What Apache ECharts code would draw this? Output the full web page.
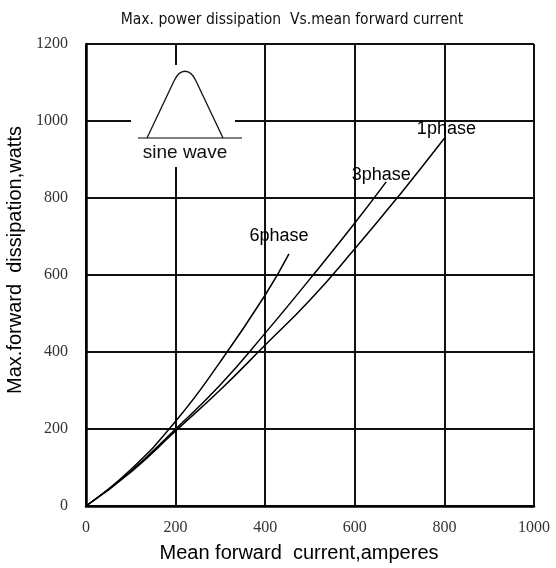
<!DOCTYPE html>
<html>
<head>
<meta charset="utf-8">
<script src="https://cdn.jsdelivr.net/npm/echarts@6/dist/echarts.min.js"></script>
<style>
  html, body { margin: 0; padding: 0; background: #fff; }
  #chart { width: 556px; height: 568px; }
</style>
</head>
<body>
<div id="chart"></div>
<script>
  // values (current in A, dissipation in W)
  var phase1 = [[0, 0], [100, 88], [200, 195], [300, 302], [400, 418], [500, 535], [600, 668], [700, 808], [800, 955]]
  var phase3 = [[0, 0], [100, 90], [200, 200], [300, 315], [400, 449], [500, 590], [600, 735], [670, 842]]
  var phase6 = [[0, 0], [100, 95], [200, 220], [300, 375], [400, 548], [453, 655]]
  var seriesNames = ['1phase', '3phase', '6phase']
  // where each name sits relative to the curve end
  var labelOffsets = [[2, -9], [-5, -7], [-10, -18]]

  var chart = echarts.init(document.getElementById('chart'))

  var curves = [phase1, phase3, phase6].map(function (d, i) {
    return {
      name: seriesNames[i],
      type: 'line',
      smooth: true,
      symbol: 'none',
      data: d,
      lineStyle: { color: '#000', width: 1.5 },
      endLabel: {
        show: true,
        formatter: '{a}',
        distance: 0,
        align: 'center',
        verticalAlign: 'middle',
        offset: labelOffsets[i],
        color: '#000',
        fontSize: 18,
        fontFamily: 'Liberation Sans'
      },
      z: 3
    }
  })

  var plain = function (v) { return String(v) }

  chart.setOption({
    animation: false,
    title: {
      text: 'Max. power dissipation  Vs.mean forward current',
      left: 287,
      textAlign: 'center',
      top: 7,
      textStyle: {
        color: '#111',
        fontWeight: 'normal',
        fontSize: 15.5,
        fontFamily: 'Liberation Sans Narrow, DejaVu Sans Condensed, sans-serif'
      }
    },
    grid: { left: 86, right: 22, top: 44, bottom: 62, outerBoundsMode: 'none' },
    xAxis: {
      type: 'value',
      min: 0,
      max: 1000,
      interval: 200,
      name: 'Mean forward  current,amperes',
      nameLocation: 'middle',
      nameGap: 37,
      nameTextStyle: {
        color: '#000',
        fontSize: 20,
        fontFamily: 'Liberation Sans',
        padding: [0, 22, 0, 0]
      },
      axisLine: { lineStyle: { color: '#000', width: 2.5 } },
      axisTick: { show: false },
      axisLabel: { color: '#333', fontSize: 16, fontFamily: 'Liberation Serif', margin: 14, formatter: plain },
      splitLine: { lineStyle: { color: '#111', width: 2 } }
    },
    yAxis: {
      type: 'value',
      min: 0,
      max: 1200,
      interval: 200,
      name: 'Max.forward  dissipation,watts',
      nameLocation: 'middle',
      nameGap: 60,
      nameTextStyle: {
        color: '#000',
        fontSize: 20,
        fontFamily: 'Liberation Sans',
        padding: [0, 0, 0, 30]
      },
      axisLine: { show: true, lineStyle: { color: '#000', width: 2.5 } },
      axisTick: { show: false },
      axisLabel: { color: '#333', fontSize: 16, fontFamily: 'Liberation Serif', margin: 18, formatter: plain },
      splitLine: { lineStyle: { color: '#111', width: 2 } }
    },
    graphic: [
      // inset: white patch over the grid, sine pulse and its caption
      { type: 'rect', shape: { x: 131, y: 65, width: 104, height: 102 }, style: { fill: '#fff' }, z: 10 },
      { type: 'line', shape: { x1: 138, y1: 138, x2: 242, y2: 138 }, style: { stroke: '#555', lineWidth: 1.5 }, z: 11 },
      { type: 'polyline', shape: { points: [[147, 138], [174, 81]] }, style: { stroke: '#111', lineWidth: 1.3 }, z: 11 },
      {
        type: 'bezierCurve',
        shape: { x1: 174, y1: 81, cpx1: 180, cpy1: 68, cpx2: 190, cpy2: 68, x2: 196, y2: 81 },
        style: { stroke: '#111', lineWidth: 1.3, fill: null },
        z: 11
      },
      { type: 'polyline', shape: { points: [[196, 81], [223, 138]] }, style: { stroke: '#111', lineWidth: 1.3 }, z: 11 },
      {
        type: 'text', x: 185, y: 153,
        style: { text: 'sine wave', fill: '#111', font: '19px Liberation Sans', align: 'center', verticalAlign: 'middle' },
        z: 11
      }
    ],
    series: curves
  })
</script>
</body>
</html>
